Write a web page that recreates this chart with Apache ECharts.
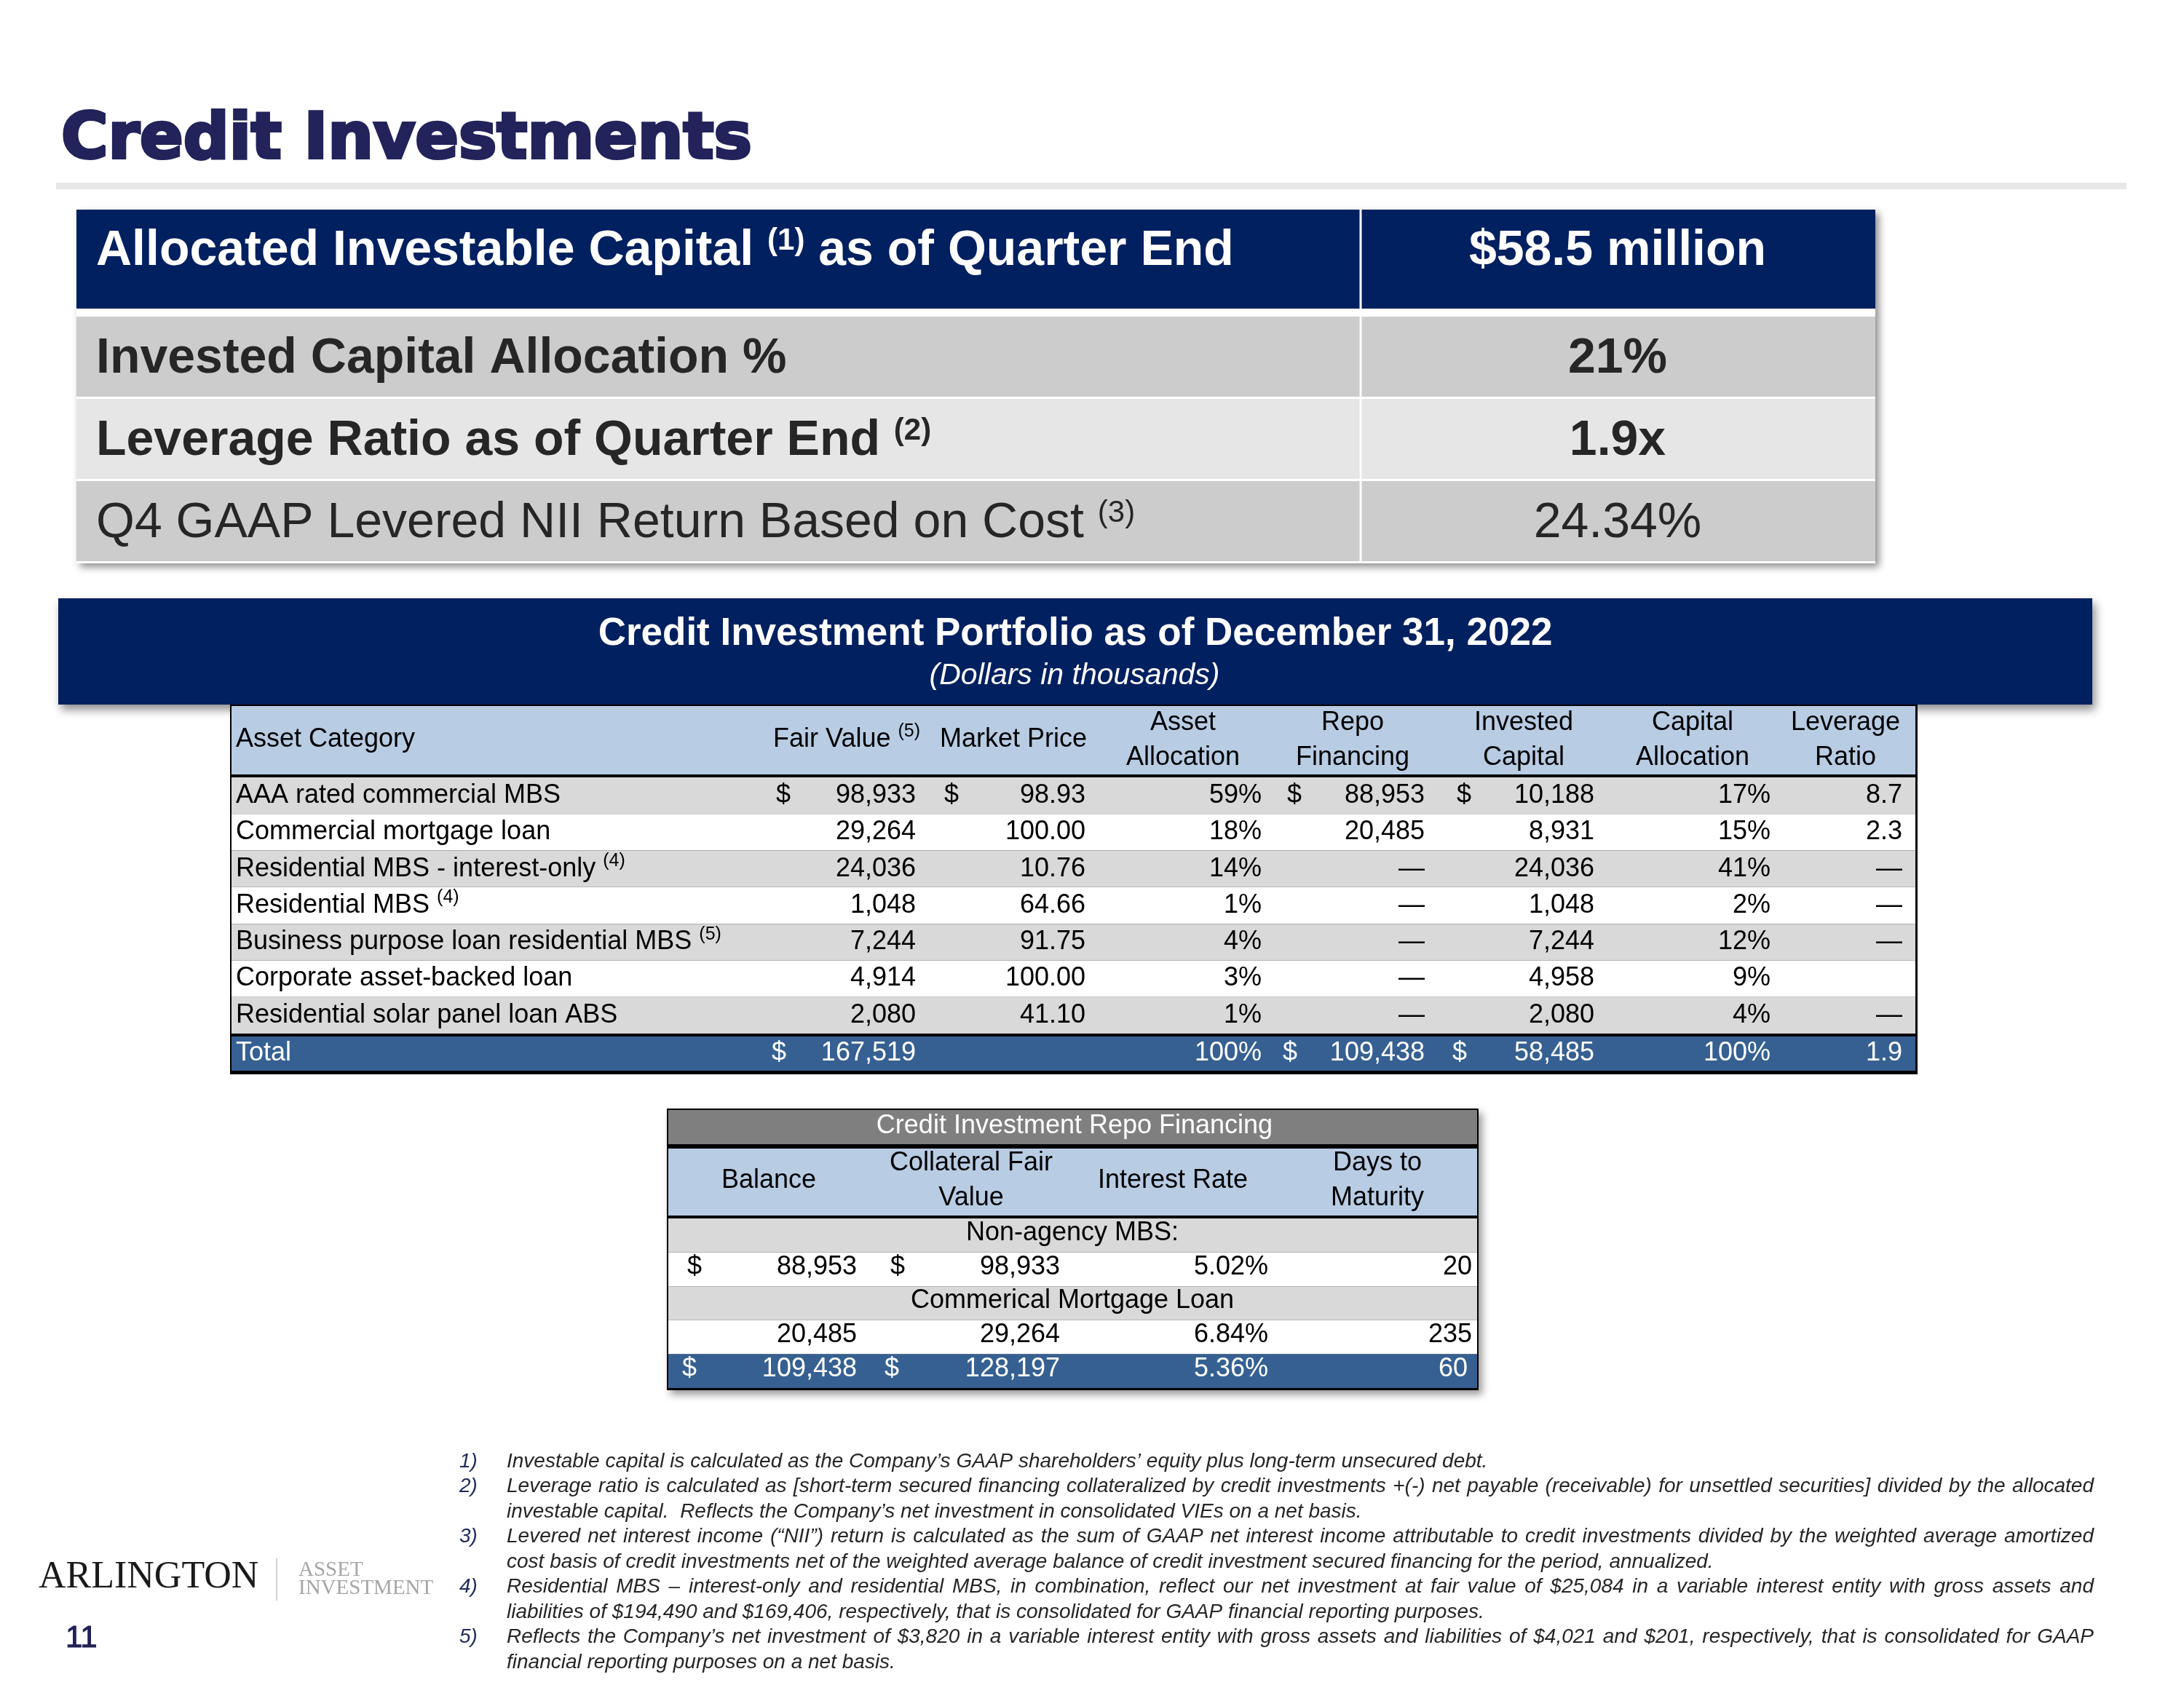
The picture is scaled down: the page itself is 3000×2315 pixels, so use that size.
<!DOCTYPE html>
<html>
<head>
<meta charset="utf-8">
<title>Credit Investments</title>
<script src="https://cdn.jsdelivr.net/npm/echarts@6.0.0/dist/echarts.min.js"></script>
<style>
html,body{margin:0;padding:0;background:#ffffff;}
#chart{width:3000px;height:2315px;}
</style>
</head>
<body>
<div id="chart"></div>
<script>
// ================= DATA =================
const pageTitle = 'Credit Investments';

const summaryLabels = [
  'Allocated Investable Capital ^(1) as of Quarter End',
  'Invested Capital Allocation %',
  'Leverage Ratio as of Quarter End ^(2)',
  'Q4 GAAP Levered NII Return Based on Cost ^(3)'
];
const summaryValues = ['$58.5 million', '21%', '1.9x', '24.34%'];

const portfolioTitle = 'Credit Investment Portfolio as of December 31, 2022';
const portfolioSubtitle = '(Dollars in thousands)';
const portfolioHeaders = [
  ['Asset Category'], ['Fair Value ^(5)'], ['Market Price'], ['Asset', 'Allocation'],
  ['Repo', 'Financing'], ['Invested', 'Capital'], ['Capital', 'Allocation'], ['Leverage', 'Ratio']
];
const assetCategories = [
  'AAA rated commercial MBS',
  'Commercial mortgage loan',
  'Residential MBS - interest-only ^(4)',
  'Residential MBS ^(4)',
  'Business purpose loan residential MBS ^(5)',
  'Corporate asset-backed loan',
  'Residential solar panel loan ABS'
];
const fairValue = [98933, 29264, 24036, 1048, 7244, 4914, 2080];
const marketPrice = [98.93, 100.00, 10.76, 64.66, 91.75, 100.00, 41.10];
const assetAllocation = [59, 18, 14, 1, 4, 3, 1];
const repoFinancing = [88953, 20485, null, null, null, null, null];      // null = "—"
const investedCapital = [10188, 8931, 24036, 1048, 7244, 4958, 2080];
const capitalAllocation = [17, 15, 41, 2, 12, 9, 4];
const leverageRatio = [8.7, 2.3, null, null, null, '', null];           // null = "—", '' = blank
const totalLabel = 'Total';
const totalFairValue = 167519;
const totalAssetAllocation = 100;
const totalRepoFinancing = 109438;
const totalInvestedCapital = 58485;
const totalCapitalAllocation = 100;
const totalLeverageRatio = 1.9;

const repoTitle = 'Credit Investment Repo Financing';
const repoHeaders = [['Balance'], ['Collateral Fair', 'Value'], ['Interest Rate'], ['Days to', 'Maturity']];
const repoGroups = ['Non-agency MBS:', 'Commerical Mortgage Loan'];
const repoBalance = [88953, 20485];
const repoCollateral = [98933, 29264];
const repoRate = [5.02, 6.84];
const repoDays = [20, 235];
const repoTotalBalance = 109438;
const repoTotalCollateral = 128197;
const repoTotalRate = 5.36;
const repoTotalDays = 60;

const footnoteNumbers = ['1)', '2)', '3)', '4)', '5)'];
const footnoteLines = [
  ['Investable capital is calculated as the Company\u2019s GAAP shareholders\u2019 equity plus long-term unsecured debt.'],
  ['Leverage ratio is calculated as [short-term secured financing collateralized by credit investments +(-) net payable (receivable) for unsettled securities] divided by the allocated',
   'investable capital.  Reflects the Company\u2019s net investment in consolidated VIEs on a net basis.'],
  ['Levered net interest income (\u201cNII\u201d) return is calculated as the sum of GAAP net interest income attributable to credit investments divided by the weighted average amortized',
   'cost basis of credit investments net of the weighted average balance of credit investment secured financing for the period, annualized.'],
  ['Residential MBS \u2013 interest-only and residential MBS, in combination, reflect our net investment at fair value of $25,084 in a variable interest entity with gross assets and',
   'liabilities of $194,490 and $169,406, respectively, that is consolidated for GAAP financial reporting purposes.'],
  ['Reflects the Company\u2019s net investment of $3,820 in a variable interest entity with gross assets and liabilities of $4,021 and $201, respectively, that is consolidated for GAAP',
   'financial reporting purposes on a net basis.']
];
const logoMain = 'ARLINGTON';
const logoSub = ['ASSET', 'INVESTMENT'];
const pageNumber = '11';

// ================= STYLE / LAYOUT =================
const NAVY = '#002060', LIGHT_BLUE = '#B8CCE4', ROW_GREY = '#D9D9D9', TOTAL_BLUE = '#366092';
const SANS = '"Liberation Sans", Arial, Helvetica, sans-serif';
const SERIF = '"Liberation Serif", "Times New Roman", serif';
const DASH = '\u2014';

function toRich(s) { return String(s).replace(/\^\((\d+)\)/g, '{s|($1)}'); }
const fmtInt = v => v.toLocaleString('en-US');
const fmtMoney = v => v == null ? DASH : fmtInt(v);
const fmtPct = v => v + '%';
const fmtLev = v => v === '' ? '' : (v == null ? DASH : v.toFixed(1));

const grids = [], xAxes = [], yAxes = [], series = [];

function makeRender(rows, width) {
  return function (params, api) {
    const i = api.value(1);
    const row = rows[i];
    const p0 = api.coord([0, i]);
    const x1 = api.coord([width, i])[0];
    const h = api.size([0, 1])[1];
    const top = p0[1] - h / 2;
    const kids = [];
    if (row.bg) {
      const gt = row.gapTop || 0, gb = row.gapBottom || 0;
      kids.push({ type: 'rect', shape: { x: p0[0], y: top + gt, width: x1 - p0[0], height: h - gt - gb }, style: { fill: row.bg } });
    }
    (row.rules || []).forEach(r => {
      const rx = api.coord([r.at, i])[0];
      kids.push({ type: 'rect', shape: { x: rx - r.w / 2, y: top, width: r.w, height: h }, style: { fill: r.color } });
    });
    row.cells.forEach(c => {
      const cx = api.coord([c.at, i])[0];
      const size = c.size || row.size || 36;
      const color = c.color || row.color || '#000';
      const weight = c.weight || row.weight || 'normal';
      const supSize = row.supSize || Math.round(size * 0.68);
      const align = c.align || 'left';
      kids.push({
        type: 'text', x: cx, y: p0[1] + (c.dy || 0) + (row.dy || 0),
        style: {
          text: toRich(c.text), fontSize: size, fontFamily: SANS, fontWeight: weight,
          fontStyle: c.fontStyle || 'normal', fill: color,
          align: align, textAlign: align, verticalAlign: 'middle', textVerticalAlign: 'middle',
          lineHeight: c.lineHeight || row.lineHeight || size,
          rich: { s: { fontSize: supSize, fontFamily: SANS, fontWeight: weight, fill: color, color: color, verticalAlign: 'top', lineHeight: supSize } }
        }
      });
    });
    return { type: 'group', children: kids };
  };
}

function addTable(left, top, width, height, rows) {
  const gi = grids.length;
  grids.push({ left: left, top: top, width: width, height: height, containLabel: false, show: false });
  xAxes.push({ gridIndex: gi, type: 'value', min: 0, max: width, show: false });
  yAxes.push({ gridIndex: gi, type: 'category', inverse: true, boundaryGap: true, show: false, data: rows.map((r, i) => String(i)) });
  series.push({
    type: 'custom', xAxisIndex: gi, yAxisIndex: gi, silent: true, z: 5,
    data: rows.map((r, i) => [0, i]), renderItem: makeRender(rows, width)
  });
}

// ---- summary box ----
const SUM = { left: 105, width: 2471, label: 27, value: 2117, divider: 1764 };
addTable(SUM.left, 288, SUM.width, 136, [{
  bg: NAVY, color: '#FFFFFF', weight: 'bold', size: 68, lineHeight: 70, supSize: 42,
  rules: [{ at: SUM.divider, w: 3, color: '#FFFFFF' }],
  cells: [
    { at: SUM.label, text: summaryLabels[0], dy: -11 },
    { at: SUM.value, text: summaryValues[0], align: 'center', dy: -11 }
  ]
}]);
addTable(SUM.left, 435, SUM.width, 339, [1, 2, 3].map(k => ({
  bg: k === 2 ? '#E6E6E6' : '#CCCCCC', gapBottom: 3, color: '#262626',
  weight: k < 3 ? 'bold' : 'normal', size: 68, lineHeight: 70, supSize: 42,
  rules: [{ at: SUM.divider, w: 3, color: '#FFFFFF' }],
  cells: [
    { at: SUM.label, text: summaryLabels[k], dy: 2 },
    { at: SUM.value, text: summaryValues[k], align: 'center', dy: 2 }
  ]
})));

// ---- portfolio table ----
const PF = { left: 318, width: 2313, cat: 6, fvD: 748, fv: 940, mpD: 979, mp: 1173, aa: 1415, rfD: 1450, rf: 1639, icD: 1683, ic: 1872, ca: 2114, lr: 2295 };
const PF_HEAD = [
  { at: 6, align: 'left' }, { at: 946, align: 'right' }, { at: 1074, align: 'center' }, { at: 1307, align: 'center' },
  { at: 1540, align: 'center' }, { at: 1775, align: 'center' }, { at: 2007, align: 'center' }, { at: 2217, align: 'center' }
];
addTable(PF.left, 970, PF.width, 94, [{
  bg: LIGHT_BLUE, color: '#000', size: 36, lineHeight: 48, supSize: 25,
  cells: portfolioHeaders.map((hd, j) => ({ at: PF_HEAD[j].at, align: PF_HEAD[j].align, text: hd.join('\n'), dy: hd.length === 1 ? -1 : 0, lineHeight: hd.length === 1 ? 46 : 48 }))
}]);
const pfBody = assetCategories.map((cat, i) => {
  const cells = [
    { at: PF.cat, text: cat },
    { at: PF.fv, text: fmtInt(fairValue[i]), align: 'right' },
    { at: PF.mp, text: marketPrice[i].toFixed(2), align: 'right' },
    { at: PF.aa, text: fmtPct(assetAllocation[i]), align: 'right' },
    { at: PF.rf, text: fmtMoney(repoFinancing[i]), align: 'right' },
    { at: PF.ic, text: fmtInt(investedCapital[i]), align: 'right' },
    { at: PF.ca, text: fmtPct(capitalAllocation[i]), align: 'right' },
    { at: PF.lr, text: fmtLev(leverageRatio[i]), align: 'right' }
  ];
  if (i === 0) [PF.fvD, PF.mpD, PF.rfD, PF.icD].forEach(x => cells.push({ at: x, text: '$' }));
  return { bg: i % 2 === 0 ? ROW_GREY : '#FFFFFF', color: '#000', size: 36, lineHeight: 46, supSize: 25, cells: cells };
});
addTable(PF.left, 1068, PF.width, 352, pfBody);
addTable(PF.left, 1424, PF.width, 47, [{
  bg: TOTAL_BLUE, color: '#FFFFFF', size: 36, lineHeight: 42,
  cells: [
    { at: PF.cat, text: totalLabel },
    { at: PF.fvD - 6, text: '$' },
    { at: PF.fv, text: fmtInt(totalFairValue), align: 'right' },
    { at: PF.aa, text: fmtPct(totalAssetAllocation), align: 'right' },
    { at: PF.rfD - 6, text: '$' },
    { at: PF.rf, text: fmtInt(totalRepoFinancing), align: 'right' },
    { at: PF.icD - 6, text: '$' },
    { at: PF.ic, text: fmtInt(totalInvestedCapital), align: 'right' },
    { at: PF.ca, text: fmtPct(totalCapitalAllocation), align: 'right' },
    { at: PF.lr, text: totalLeverageRatio.toFixed(1), align: 'right' }
  ]
}]);

// ---- repo table ----
const RP = { left: 918, width: 1111, balD: 26, bal: 259, colD: 305, col: 538, rate: 824, days: 1104, mid: 555 };
const RP_HEAD = [138, 416, 693, 974];
addTable(RP.left, 1525, RP.width, 47, [{
  bg: '#7F7F7F', color: '#FFFFFF', size: 36, cells: [{ at: 558, text: repoTitle, align: 'center', dy: -1 }]
}]);
addTable(RP.left, 1578, RP.width, 92, [{
  bg: LIGHT_BLUE, color: '#000', size: 36, lineHeight: 48,
  cells: repoHeaders.map((hd, j) => ({ at: RP_HEAD[j], align: 'center', text: hd.join('\n'), dy: -2 }))
}]);
const rpRows = [];
repoGroups.forEach((g, k) => {
  rpRows.push({ bg: ROW_GREY, color: '#000', size: 36, dy: -3, cells: [{ at: RP.mid, text: g, align: 'center' }] });
  const cells = [
    { at: RP.bal, text: fmtInt(repoBalance[k]), align: 'right' },
    { at: RP.col, text: fmtInt(repoCollateral[k]), align: 'right' },
    { at: RP.rate, text: repoRate[k].toFixed(2) + '%', align: 'right' },
    { at: RP.days, text: String(repoDays[k]), align: 'right' }
  ];
  if (k === 0) { cells.push({ at: RP.balD, text: '$' }); cells.push({ at: RP.colD, text: '$' }); }
  rpRows.push({ bg: '#FFFFFF', color: '#000', size: 36, dy: -3, cells: cells });
});
rpRows.push({
  bg: TOTAL_BLUE, color: '#FFFFFF', size: 36, dy: -3,
  cells: [
    { at: RP.balD - 7, text: '$' },
    { at: RP.bal, text: fmtInt(repoTotalBalance), align: 'right' },
    { at: RP.colD - 8, text: '$' },
    { at: RP.col, text: fmtInt(repoTotalCollateral), align: 'right' },
    { at: RP.rate, text: repoTotalRate.toFixed(2) + '%', align: 'right' },
    { at: RP.days - 6, text: String(repoTotalDays), align: 'right' }
  ]
});
addTable(RP.left, 1674, RP.width, 233, rpRows);

// ================= GRAPHIC (decoration & free text) =================
const G = [];
const TITLE_COLOR = '#22235A';
G.push({ type: 'text', x: 84, y: 194, z: 10, style: { text: pageTitle, fontFamily: '"DejaVu Sans", sans-serif', fontWeight: 'bold', fontSize: 88, fill: TITLE_COLOR, stroke: TITLE_COLOR, lineWidth: 4, align: 'left', textAlign: 'left', verticalAlign: 'middle', textVerticalAlign: 'middle' } });
G.push({ type: 'rect', z: 1, shape: { x: 77, y: 251, width: 2844, height: 9 }, style: { fill: '#E6E6E6' } });
// summary box backing with shadow
G.push({ type: 'rect', z: 1, shape: { x: 105, y: 288, width: 2471, height: 486 }, style: { fill: '#FFFFFF', shadowBlur: 10, shadowOffsetX: 5, shadowOffsetY: 5, shadowColor: 'rgba(0,0,0,0.45)' } });
// portfolio band
G.push({ type: 'rect', z: 1, shape: { x: 80, y: 822, width: 2794, height: 146 }, style: { fill: NAVY, shadowBlur: 12, shadowOffsetX: 4, shadowOffsetY: 7, shadowColor: 'rgba(0,0,0,0.45)' } });
G.push({ type: 'text', x: 1477, y: 871, z: 10, style: { text: portfolioTitle, fontFamily: SANS, fontWeight: 'bold', fontSize: 53, fill: '#FFFFFF', align: 'center', textAlign: 'center', verticalAlign: 'middle', textVerticalAlign: 'middle' } });
G.push({ type: 'text', x: 1476, y: 929, z: 10, style: { text: portfolioSubtitle, fontFamily: SANS, fontStyle: 'italic', fontSize: 41, fill: '#FFFFFF', align: 'center', textAlign: 'center', verticalAlign: 'middle', textVerticalAlign: 'middle' } });
// portfolio frame
G.push({ type: 'rect', z: 2, shape: { x: 316, y: 968, width: 2318, height: 508 }, style: { fill: '#000000' } });
// repo frame
G.push({ type: 'rect', z: 2, shape: { x: 916, y: 1523, width: 1115, height: 387 }, style: { fill: '#000000', shadowBlur: 10, shadowOffsetX: 5, shadowOffsetY: 6, shadowColor: 'rgba(0,0,0,0.4)' } });

// footnotes (justified like the reference)
const FN = { numX: 631, textX: 696, right: 2876, top: 2008, lh: 34.5, size: 28 };
const measureCtx = document.createElement('canvas').getContext('2d');
measureCtx.font = 'italic ' + FN.size + 'px "Liberation Sans"';
let lineIdx = 0;
footnoteLines.forEach((lines, k) => {
  G.push({ type: 'text', x: FN.numX, y: FN.top + lineIdx * FN.lh, z: 10, style: { text: footnoteNumbers[k], fontFamily: SANS, fontStyle: 'italic', fontSize: FN.size, fill: '#1F2A5C', align: 'left', textAlign: 'left', verticalAlign: 'middle', textVerticalAlign: 'middle' } });
  lines.forEach((line, j) => {
    const y = FN.top + lineIdx * FN.lh;
    const isLast = j === lines.length - 1;
    if (isLast) {
      G.push({ type: 'text', x: FN.textX, y: y, z: 10, style: { text: line, fontFamily: SANS, fontStyle: 'italic', fontSize: FN.size, fill: '#262626', align: 'left', textAlign: 'left', verticalAlign: 'middle', textVerticalAlign: 'middle' } });
    } else {
      const words = line.split(/ +/);
      const widths = words.map(w => measureCtx.measureText(w).width);
      const total = widths.reduce((a, b) => a + b, 0);
      const gap = (FN.right - FN.textX - total) / (words.length - 1);
      let x = FN.textX;
      words.forEach((w, wi) => {
        G.push({ type: 'text', x: x, y: y, z: 10, style: { text: w, fontFamily: SANS, fontStyle: 'italic', fontSize: FN.size, fill: '#262626', align: 'left', textAlign: 'left', verticalAlign: 'middle', textVerticalAlign: 'middle' } });
        x += widths[wi] + gap;
      });
    }
    lineIdx++;
  });
});

// logo & page number
G.push({ type: 'text', x: 53, y: 2167, z: 10, style: { text: logoMain, fontFamily: SERIF, fontSize: 52, fill: '#1A1A1A', align: 'left', textAlign: 'left', verticalAlign: 'middle', textVerticalAlign: 'middle' } });
G.push({ type: 'rect', z: 10, shape: { x: 379, y: 2141, width: 2, height: 58 }, style: { fill: '#D0D0D0' } });
G.push({ type: 'text', x: 410, y: 2157, z: 10, style: { text: logoSub[0], fontFamily: SERIF, fontSize: 29, fill: '#A6A6A6', align: 'left', textAlign: 'left', verticalAlign: 'middle', textVerticalAlign: 'middle' } });
G.push({ type: 'text', x: 410, y: 2182, z: 10, style: { text: logoSub[1], fontFamily: SERIF, fontSize: 29, fill: '#A6A6A6', align: 'left', textAlign: 'left', verticalAlign: 'middle', textVerticalAlign: 'middle' } });
G.push({ type: 'text', x: 90, y: 2251, z: 10, style: { text: pageNumber, fontFamily: SANS, fontSize: 42, fill: '#1F2156', stroke: '#1F2156', lineWidth: 1, align: 'left', textAlign: 'left', verticalAlign: 'middle', textVerticalAlign: 'middle' } });

const chart = echarts.init(document.getElementById('chart'), null, { renderer: 'canvas', width: 3000, height: 2315 });
chart.setOption({
  animation: false,
  backgroundColor: '#FFFFFF',
  grid: grids,
  xAxis: xAxes,
  yAxis: yAxes,
  series: series,
  graphic: { elements: G }
});
</script>
</body>
</html>
